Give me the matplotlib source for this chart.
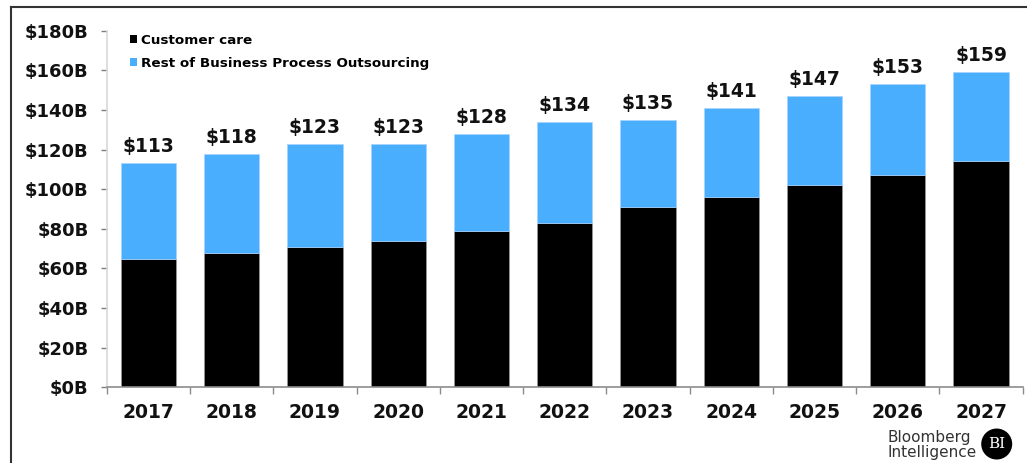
import matplotlib
matplotlib.use("Agg")
import matplotlib.pyplot as plt
from matplotlib.lines import Line2D
from matplotlib.patches import Ellipse, Patch
import numpy as np

# Global BPO market, $ billions
years = ["2017", "2018", "2019", "2020", "2021", "2022",
         "2023", "2024", "2025", "2026", "2027"]
total = [113, 118, 123, 123, 128, 134, 135, 141, 147, 153, 159]
customer_care = [65, 68, 71, 74, 79, 83, 91, 96, 102, 107, 114]
rest_bpo = [t - c for t, c in zip(total, customer_care)]
y_ticks = [0, 20, 40, 60, 80, 100, 120, 140, 160, 180]

BLUE = "#4aaeff"
BLACK = "#000000"

plt.rcParams["font.family"] = ["DejaVu Sans"]

fig = plt.figure(figsize=(10.27, 4.63), dpi=100)
ax = fig.add_axes([0.1039, 0.1635, 0.8919, 0.7702])

x = np.arange(len(years))
ax.bar(x, customer_care, width=0.664, color=BLACK, edgecolor="#9a9a9a",
       linewidth=0.5, label="Customer care", zorder=2)
ax.bar(x, rest_bpo, bottom=customer_care, width=0.664, color=BLUE,
       edgecolor="#a8d4ff", linewidth=0.5,
       label="Rest of Business Process Outsourcing", zorder=2)

# totals above each stack
for xi, t in zip(x, total):
    ax.annotate(f"${t}", xy=(xi, t), xytext=(0, 5), textcoords="offset points",
                ha="center", va="bottom", fontsize=13.5, fontweight="bold",
                color="#111111")

ax.set_xlim(-0.5, len(years) - 0.5)
ax.set_ylim(0, 180)
ax.set_yticks(y_ticks)
ax.set_yticklabels([f"${v}B" for v in y_ticks])
ax.set_xticks(x)
ax.set_xticklabels(years)
ax.set_xticks(np.arange(len(years) + 1) - 0.5, minor=True)

ax.tick_params(axis="y", length=4, width=1, color="#7f7f7f", pad=9,
               labelsize=13, labelcolor="#111111")
ax.tick_params(axis="x", which="major", length=0, pad=11,
               labelsize=13.5, labelcolor="#111111")
ax.tick_params(axis="x", which="minor", length=5, width=1, color="#8c8c8c")
for lbl in ax.get_yticklabels() + ax.get_xticklabels():
    lbl.set_fontweight("bold")

for s in ("top", "right"):
    ax.spines[s].set_visible(False)
ax.spines["left"].set_color("#d9d9d9")
ax.spines["left"].set_linewidth(1.2)
ax.spines["bottom"].set_color("#8c8c8c")
ax.spines["bottom"].set_linewidth(1.2)

handles = [Patch(facecolor=BLACK, edgecolor="none"),
           Patch(facecolor=BLUE, edgecolor="none")]
fig.legend(handles, ["Customer care", "Rest of Business Process Outsourcing"],
           loc="upper left", bbox_to_anchor=(0.121, 0.938), frameon=False,
           handlelength=0.55, handleheight=0.55, handletextpad=0.3,
           labelspacing=0.75, borderaxespad=0,
           prop={"size": 9.7, "weight": "bold"})

# outer frame (left and top edges)
fig.add_artist(Line2D([0.0107, 0.0107], [0.0, 0.985], transform=fig.transFigure,
                      color="#333333", lw=1.5))
fig.add_artist(Line2D([0.0107, 1.0], [0.985, 0.985], transform=fig.transFigure,
                      color="#333333", lw=1.5))

# Bloomberg Intelligence mark
fig.text(0.8645, 0.006, "Bloomberg\nIntelligence", ha="left", va="bottom",
         fontsize=11, color="#333333", linespacing=1.0)
fig.add_artist(Ellipse((0.9705, 0.041), width=31 / 1027, height=31 / 463,
                       transform=fig.transFigure, facecolor="black",
                       edgecolor="none"))
fig.text(0.9705, 0.041, "BI", ha="center", va="center", fontsize=11,
         color="white", family=["DejaVu Serif"])

fig.savefig("out.png", dpi=100)
